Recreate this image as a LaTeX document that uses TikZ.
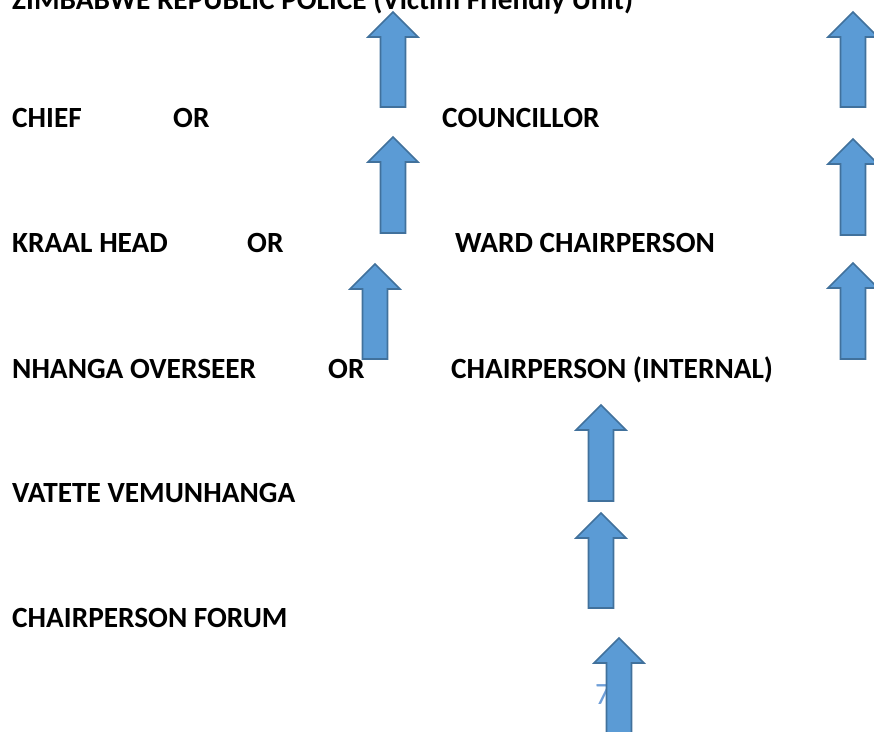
\documentclass[tikz,border=0pt]{standalone}
\usepackage{fontspec}
\setmainfont{Carlito}
\usepackage{tikz}
\usetikzlibrary{positioning, calc}

\definecolor{arrowfill}{HTML}{5B9BD5}
\definecolor{arrowline}{HTML}{41719C}
\definecolor{pagenum}{HTML}{6F9FD8}

% block arrow pointing up: x, tip y, bottom y
\newcommand{\blockup}[3]{%
  \draw[blockarrow] (#1,#2) -- (#1+25,#2+25) -- (#1+12.5,#2+25) -- (#1+12.5,#3)
    -- (#1-12.5,#3) -- (#1-12.5,#2+25) -- (#1-25,#2+25) -- cycle;}

\begin{document}
\begin{tikzpicture}[x=1pt, y=-1pt,
  lvl/.style={anchor=base west, inner sep=0pt, font=\fontsize{29.3}{35}\selectfont\bfseries},
  blockarrow/.style={fill=arrowfill, draw=arrowline, line width=1.6pt, line join=miter}]
\useasboundingbox (0,0) rectangle (874,731);

% Levels
\node[lvl] (zrp) at (12,9) {ZIMBABWE REPUBLIC POLICE (Victim Friendly Unit)};
\node[lvl] (chief) at (12,127) {CHIEF};
\node[lvl] (or1) at (173,127) {OR};
\node[lvl] (coun) at (442,127) {COUNCILLOR};
\node[lvl] (kraal) at (12,252) {KRAAL HEAD};
\node[lvl] (or2) at (247,252) {OR};
\node[lvl] (ward) at (455,252) {WARD CHAIRPERSON};
\node[lvl] (nhanga) at (12,378) {NHANGA OVERSEER};
\node[lvl] (or3) at (328,378) {OR};
\node[lvl] (intern) at (451,378) {CHAIRPERSON (INTERNAL)};
\node[lvl] (vatete) at (12,502) {VATETE VEMUNHANGA};
\node[lvl] (forum) at (12,627) {CHAIRPERSON FORUM};

% page number
\node[anchor=base west, inner sep=0pt, text=pagenum, font=\fontsize{31}{36}\selectfont] (pg) at (595,704) {7};

% Arrows
\blockup{393}{12}{107}
\blockup{853}{12}{107}
\blockup{393}{137}{233}
\blockup{853}{139}{235}
\blockup{375}{264}{359}
\blockup{853}{263}{359}
\blockup{601}{405}{501}
\blockup{601}{513}{608}
\blockup{619}{638}{745}
\end{tikzpicture}
\end{document}
